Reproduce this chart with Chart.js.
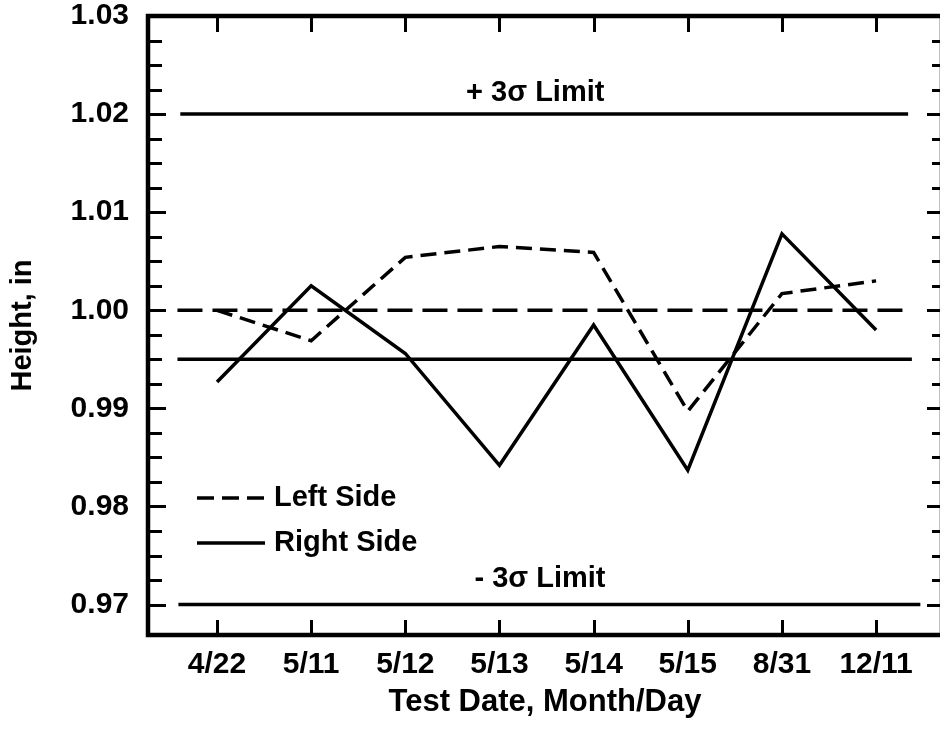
<!DOCTYPE html>
<html>
<head>
<meta charset="utf-8">
<script src="https://cdn.jsdelivr.net/npm/chart.js@4.4.0/dist/chart.umd.min.js"></script>
<style>
  html, body { margin: 0; padding: 0; background: #fff; overflow: hidden; }
  #chart { display: block; }
</style>
</head>
<body>
<canvas id="chart" width="946" height="733"></canvas>
<script>
// data
const testDates = ["4/22", "5/11", "5/12", "5/13", "5/14", "5/15", "8/31", "12/11"];
const leftSide = [1.0000, 0.9969, 1.0054, 1.0065, 1.0059, 0.9897, 1.0017, 1.0030];
const rightSide = [0.9927, 1.0025, 0.9956, 0.9842, 0.9985, 0.9837, 1.0078, 0.9980];
const yTicks = [0.97, 0.98, 0.99, 1.00, 1.01, 1.02, 1.03];

// horizontal limit lines: level and extent in category units
const limitLevels = [1.02, 1.00, 0.995, 0.97];
const limitStart = [-0.39, -0.42, -0.42, -0.41];
const limitEnd = [7.34, 7.36, 7.38, 7.47];

const FONT = "'Liberation Sans', Arial, Helvetica, sans-serif";
const minorStep = 0.0025;

function toPoints(values) {
  return values.map((v, i) => ({ x: i, y: v }));
}

function limitLine(i, dash) {
  return {
    data: [
      { x: limitStart[i], y: limitLevels[i] },
      { x: limitEnd[i], y: limitLevels[i] }
    ],
    borderColor: "#000",
    borderWidth: 3.5,
    borderDash: dash,
    pointRadius: 0
  };
}

// frame with inward ticks on all four sides
const framePlugin = {
  id: "frame",
  afterDraw(chart) {
    const { ctx, chartArea: a, scales } = chart;
    const x = scales.x;
    const y = scales.y;
    ctx.save();
    ctx.strokeStyle = "#000";
    ctx.lineWidth = 3;
    ctx.beginPath();
    const n = Math.round((yTicks[yTicks.length - 1] - yTicks[0]) / minorStep);
    for (let k = 0; k <= n; k++) {
      const py = Math.round(y.getPixelForValue(yTicks[0] + k * minorStep)) + 0.5;
      const major = k % 4 === 0;
      ctx.moveTo(a.left, py);
      ctx.lineTo(a.left + (major ? 18 : 14), py);
      ctx.moveTo(a.right, py);
      ctx.lineTo(a.right - (major ? 15 : 10), py);
    }
    testDates.forEach((d, i) => {
      const px = Math.round(x.getPixelForValue(i)) + 0.5;
      ctx.moveTo(px, a.top);
      ctx.lineTo(px, a.top + 16);
      ctx.moveTo(px, a.bottom);
      ctx.lineTo(px, a.bottom - 15);
    });
    ctx.stroke();
    ctx.lineWidth = 4.5;
    ctx.strokeRect(a.left, a.top, a.right - a.left, a.bottom - a.top);
    ctx.restore();
  }
};

// limit captions and the in-plot legend
const notesPlugin = {
  id: "notes",
  afterDraw(chart) {
    const { ctx, chartArea: a, scales } = chart;
    const x = scales.x;
    const y = scales.y;
    ctx.save();
    ctx.fillStyle = "#000";
    ctx.font = "bold 29px " + FONT;
    ctx.textAlign = "center";
    ctx.textBaseline = "alphabetic";
    ctx.fillText("+ 3\u03c3 Limit", x.getPixelForValue(3.38), y.getPixelForValue(limitLevels[0]) - 13);
    ctx.fillText("- 3\u03c3 Limit", x.getPixelForValue(3.43), y.getPixelForValue(limitLevels[3]) - 18);

    const lx = a.left + 49;
    const rows = [
      { text: "Left Side", dash: [17, 8], dy: 482 },
      { text: "Right Side", dash: [], dy: 527 }
    ];
    ctx.lineWidth = 3.5;
    ctx.strokeStyle = "#000";
    ctx.textAlign = "left";
    ctx.textBaseline = "middle";
    rows.forEach(r => {
      const ly = a.top + r.dy;
      ctx.setLineDash(r.dash);
      ctx.beginPath();
      ctx.moveTo(lx, ly);
      ctx.lineTo(lx + 68, ly);
      ctx.stroke();
      ctx.fillText(r.text, lx + 77, ly);
    });
    ctx.restore();
  }
};

new Chart(document.getElementById("chart"), {
  type: "line",
  data: {
    datasets: [
      limitLine(0, []),
      limitLine(1, [25, 10]),
      limitLine(2, []),
      limitLine(3, []),
      {
        label: "Left Side",
        data: toPoints(leftSide),
        borderColor: "#000",
        borderWidth: 3.5,
        borderDash: [16, 8],
        pointRadius: 0,
        tension: 0
      },
      {
        label: "Right Side",
        data: toPoints(rightSide),
        borderColor: "#000",
        borderWidth: 3.5,
        borderJoinStyle: "miter",
        pointRadius: 0,
        tension: 0
      }
    ]
  },
  options: {
    responsive: false,
    animation: false,
    devicePixelRatio: 1,
    layout: { padding: { top: 16, right: 4, left: 0, bottom: 0 } },
    plugins: {
      legend: { display: false },
      tooltip: { enabled: false }
    },
    scales: {
      x: {
        type: "linear",
        min: -0.733,
        max: 7.70,
        grid: { display: false, drawTicks: false },
        border: { display: false },
        afterBuildTicks: scale => {
          scale.ticks = testDates.map((d, i) => ({ value: i }));
        },
        afterFit: scale => {
          scale.height = 98;
          scale.paddingLeft = 0;
          scale.paddingRight = 0;
        },
        ticks: {
          color: "#000",
          padding: 12,
          maxRotation: 0,
          autoSkip: false,
          font: { family: FONT, size: 30, weight: "bold" },
          callback: value => testDates[value]
        },
        title: {
          display: true,
          text: "Test Date, Month/Day",
          color: "#000",
          padding: { top: 0, bottom: 12 },
          font: { family: FONT, size: 31, weight: "bold" }
        }
      },
      y: {
        min: 0.9669,
        max: 1.03,
        grid: { display: false, drawTicks: false },
        border: { display: false },
        afterBuildTicks: scale => {
          scale.ticks = yTicks.map(v => ({ value: v }));
        },
        afterFit: scale => {
          scale.width = 148;
          scale.paddingTop = 0;
          scale.paddingBottom = 0;
        },
        ticks: {
          color: "#000",
          padding: 19,
          font: { family: FONT, size: 30, weight: "bold" },
          callback: value => Number(value).toFixed(2)
        },
        title: {
          display: true,
          text: "Height, in",
          color: "#000",
          padding: { top: 6, bottom: 0 },
          font: { family: FONT, size: 29, weight: "bold" }
        }
      }
    }
  },
  plugins: [framePlugin, notesPlugin]
});
</script>
</body>
</html>
